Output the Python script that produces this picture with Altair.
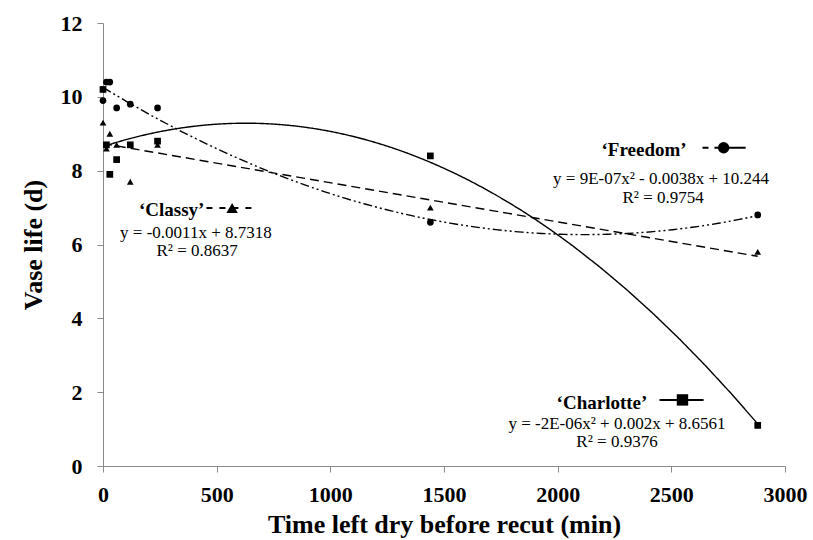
import altair as alt
import pandas as pd

# ---- data ----
times = [0, 15, 30, 60, 120, 240, 1440, 2880]
freedom = [9.9, 10.4, 10.4, 9.7, 9.8, 9.7, 6.6, 6.8]
classy = [9.3, 8.6, 9.0, 8.7, 7.7, 8.7, 7.0, 5.8]
charlotte = [10.2, 8.7, 7.9, 8.3, 8.7, 8.8, 8.4, 1.1]

cultivars = ["Freedom", "Classy", "Charlotte"]
marker_shapes = ["circle", "triangle-up", "square"]

# annotation texts
label_names = ["\u2018Freedom\u2019", "\u2018Classy\u2019", "\u2018Charlotte\u2019"]
label_x = [2380, 302, 2195]
label_y = [8.55, 6.94, 1.71]
eq_texts = ["y = 9E-07x\u00b2 - 0.0038x + 10.244",
            "y = -0.0011x + 8.7318",
            "y = -2E-06x\u00b2 + 0.002x + 8.6561"]
eq_x = [2455, 409, 2261]
eq_y = [7.78, 6.31, 1.14]
r2_texts = ["R\u00b2 = 0.9754", "R\u00b2 = 0.8637", "R\u00b2 = 0.9376"]
r2_x = [2464, 414, 2261]
r2_y = [7.27, 5.83, 0.66]
# legend-like keys next to the labels
key_x1 = [2637, 455, 2448]
key_x2 = [2827, 671, 2642]
key_xm = [2730, 568, 2549]
key_y = [8.62, 6.99, 1.79]

rows = []
for name, vals in zip(cultivars, [freedom, classy, charlotte]):
    for t, v in zip(times, vals):
        rows.append({"cultivar": name, "time": t, "life": v})
df = pd.DataFrame(rows)

ann = pd.DataFrame({
    "cultivar": cultivars, "label": label_names, "lx": label_x, "ly": label_y,
    "eq": eq_texts, "ex": eq_x, "ey": eq_y, "r2": r2_texts, "rx": r2_x, "ry": r2_y,
    "kx1": key_x1, "kx2": key_x2, "kxm": key_xm, "ky": key_y,
})

FONT = "Liberation Serif"
xs = alt.Scale(domain=[0, 3000], nice=False)
ys = alt.Scale(domain=[0, 12], nice=False)
shape_scale = alt.Scale(domain=cultivars, range=marker_shapes)

base = alt.Chart(df)

points = base.mark_point(filled=True, color="black", opacity=1, size=45).encode(
    x=alt.X("time:Q", scale=xs,
            axis=alt.Axis(values=[0, 500, 1000, 1500, 2000, 2500, 3000], format="d",
                          title="Time left dry before recut (min)")),
    y=alt.Y("life:Q", scale=ys,
            axis=alt.Axis(values=[0, 2, 4, 6, 8, 10, 12], format="d",
                          title="Vase life (d)")),
    shape=alt.Shape("cultivar:N", scale=shape_scale, legend=None),
)

dashes = {"Freedom": [9, 3, 2, 3, 2, 3], "Classy": [9, 5], "Charlotte": [1, 0]}
fits = []
for name in cultivars:
    if name == "Classy":
        reg = base.transform_filter(alt.datum.cultivar == name).transform_regression(
            "time", "life", method="linear")
    else:
        reg = base.transform_filter(alt.datum.cultivar == name).transform_regression(
            "time", "life", method="poly", order=2)
    fits.append(reg.mark_line(color="black", strokeWidth=1.4,
                              strokeDash=dashes[name]).encode(
        x=alt.X("time:Q", scale=xs), y=alt.Y("life:Q", scale=ys)))

abase = alt.Chart(ann)
labels = abase.mark_text(font=FONT, fontSize=19, fontWeight="bold", color="black",
                         baseline="middle").encode(
    x=alt.X("lx:Q", scale=xs), y=alt.Y("ly:Q", scale=ys), text="label:N")
eqs = abase.mark_text(font=FONT, fontSize=17, color="black", baseline="middle").encode(
    x=alt.X("ex:Q", scale=xs), y=alt.Y("ey:Q", scale=ys), text="eq:N")
r2s = abase.mark_text(font=FONT, fontSize=17, color="black", baseline="middle").encode(
    x=alt.X("rx:Q", scale=xs), y=alt.Y("ry:Q", scale=ys), text="r2:N")

key_dash = {"Freedom": [6, 6, 40, 0], "Classy": [6, 7], "Charlotte": [1, 0]}
key_rules = []
for name in cultivars:
    key_rules.append(abase.transform_filter(alt.datum.cultivar == name).mark_rule(
        color="black", strokeWidth=2, strokeDash=key_dash[name]
    ).encode(x=alt.X("kx1:Q", scale=xs), x2="kx2:Q", y=alt.Y("ky:Q", scale=ys)))
key_pts = abase.mark_point(filled=True, color="black", opacity=1, size=130).encode(
    x=alt.X("kxm:Q", scale=xs), y=alt.Y("ky:Q", scale=ys),
    shape=alt.Shape("cultivar:N", scale=shape_scale, legend=None))

chart = alt.layer(*fits, points, labels, eqs, r2s, *key_rules, key_pts).properties(
    width=682, height=443,
    autosize=alt.AutoSizeParams(type="none"),
    padding={"left": 103, "top": 23, "right": 28, "bottom": 74},
).configure_view(stroke=None).configure_axis(
    grid=False, domainColor="#8a8a8a", tickColor="#8a8a8a", tickSize=6,
    labelFlush=False,
    labelFont=FONT, labelFontSize=22, labelFontWeight="bold", labelColor="black",
    titleFont=FONT, titleFontSize=26, titleFontWeight="bold", titleColor="black",
).configure_axisY(labelPadding=15, titlePadding=14).configure_axisX(
    labelPadding=12, titlePadding=6)

chart.save("out.html", embed_options={"renderer": "svg", "actions": False})
